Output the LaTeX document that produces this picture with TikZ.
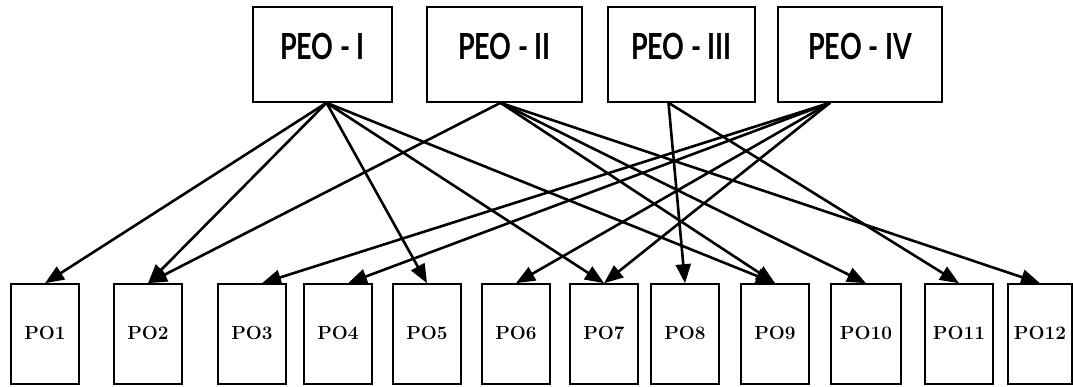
\documentclass[tikz,border=0pt]{standalone}
\usepackage{fontspec}
\newfontfamily\peofont{Lato}
\usetikzlibrary{arrows.meta}

\tikzset{
    peo/.style={draw, line width=1.6pt, minimum width=#1, minimum height=95pt, inner sep=0pt,
        text height=27pt, text depth=17pt, font=\peofont\bfseries\fontsize{36}{36}\selectfont},
    po/.style={draw, line width=1.6pt, minimum width=#1, minimum height=100pt, inner sep=0pt,
        text height=12pt, text depth=0pt, font=\bfseries\fontsize{19}{19}\selectfont},
    po/.default=68pt,
    map/.style={-{Triangle[length=19pt,width=15pt]}, line width=2.6pt}
}

\begin{document}
\begin{tikzpicture}[x=1pt,y=1pt]
    \useasboundingbox (0,0) rectangle (1073,387);

    \node[peo=139pt] (peo1) at (322.5,332.5) {\scalebox{0.75}[1]{PEO - I}};
    \node[peo=155pt] (peo2) at (504.5,332.5) {\scalebox{0.75}[1]{PEO - II}};
    \node[peo=147pt] (peo3) at (681.5,332.5) {\scalebox{0.75}[1]{PEO - III}};
    \node[peo=164pt] (peo4) at (860,332.5) {\scalebox{0.75}[1]{PEO - IV}};

    \node[po] (po1) at (45,53) {PO1};
    \node[po] (po2) at (148,53) {PO2};
    \node[po] (po3) at (252,53) {PO3};
    \node[po] (po4) at (338,53) {PO4};
    \node[po] (po5) at (427,53) {PO5};
    \node[po] (po6) at (516,53) {PO6};
    \node[po] (po7) at (604,53) {PO7};
    \node[po] (po8) at (685,53) {PO8};
    \node[po] (po9) at (775,53) {PO9};
    \node[po=70pt] (po10) at (866,53) {PO10};
    \node[po] (po11) at (959,53) {PO11};
    \node[po=64pt] (po12) at (1040,53) {PO12};

    \draw[map] ([xshift=4pt]peo1.south) -- (po1.north);
    \draw[map] ([xshift=4pt]peo1.south) -- (po2.north);
    \draw[map] ([xshift=4pt]peo1.south) -- (po5.north);
    \draw[map] ([xshift=4pt]peo1.south) -- (po7.north);
    \draw[map] ([xshift=4pt]peo1.south) -- (po9.north);

    \draw[map] ([xshift=-4pt]peo2.south) -- (po2.north);
    \draw[map] ([xshift=-4pt]peo2.south) -- (po9.north);
    \draw[map] ([xshift=-4pt]peo2.south) -- (po10.north);
    \draw[map] ([xshift=-4pt]peo2.south) -- (po12.north);

    \draw[map] ([xshift=-13pt]peo3.south) -- (po8.north);
    \draw[map] ([xshift=-13pt]peo3.south) -- (po11.north);

    \draw[map] ([xshift=-30pt]peo4.south) -- ([xshift=10pt]po3.north);
    \draw[map] ([xshift=-30pt]peo4.south) -- ([xshift=10pt]po4.north);
    \draw[map] ([xshift=-30pt]peo4.south) -- (po6.north);
    \draw[map] ([xshift=-30pt]peo4.south) -- (po7.north);

\end{tikzpicture}
\end{document}
